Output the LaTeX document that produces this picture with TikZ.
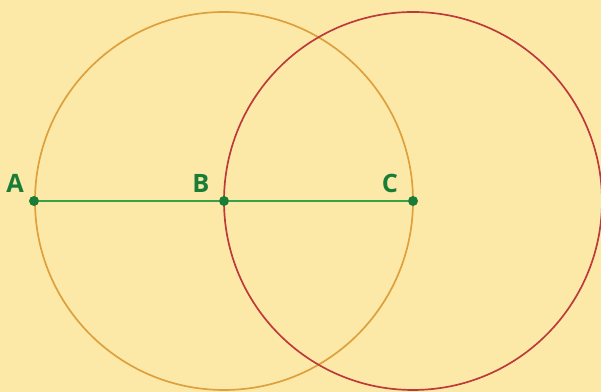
\documentclass[tikz,border=0pt]{standalone}
\usepackage{fontspec}
\setsansfont{Open Sans}
\usetikzlibrary{positioning}
\definecolor{PaperYellow}{RGB}{252,233,168}
\definecolor{CircleOrange}{RGB}{222,160,60}
\definecolor{CircleRed}{RGB}{190,58,58}
\definecolor{LineGreen}{RGB}{58,160,70}
\definecolor{DotGreen}{RGB}{25,125,55}
\tikzset{
  pointdot/.style={
    circle,
    fill=DotGreen,
    inner sep=0pt,
    minimum size=2.5mm
  },
  pointlabel/.style={
    text=DotGreen,
    font=\sffamily\bfseries\fontsize{18}{21}\selectfont,
    inner sep=0pt
  },
  segment/.style={draw=LineGreen,line width=1.5pt}
}
\begin{document}
\begin{tikzpicture}[x=0.025cm,y=0.025cm]
    \fill[PaperYellow] (0,0) rectangle (601,392);
    \useasboundingbox (0,0) rectangle (601,392);
    \coordinate (cb) at (224,191);
    \coordinate (cc) at (413,191);
    \draw[CircleOrange,line width=1.2pt] (cb) circle (189);
    \draw[CircleRed,line width=1.2pt] (cc) circle (189);
    \node[pointdot] (A) at (34,191) {};
    \node[pointdot] (B) at (cb) {};
    \node[pointdot] (C) at (cc) {};
    \draw[segment] (A) -- (B) -- (C);
    \node[pointlabel,above left=0.45cm and 0.475cm of A.center,anchor=center] (la) {A};
    \node[pointlabel,above left=0.45cm and 0.575cm of B.center,anchor=center] (lb) {B};
    \node[pointlabel,above left=0.45cm and 0.575cm of C.center,anchor=center] (lc) {C};
\end{tikzpicture}
\end{document}
